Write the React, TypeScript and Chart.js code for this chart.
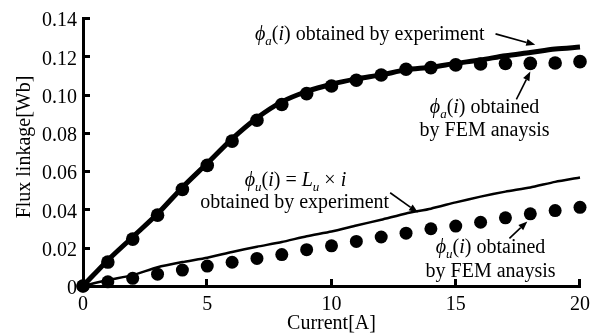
import React, { useEffect, useRef } from 'react';
import { Chart, registerables } from 'chart.js';

Chart.register(...registerables);

// ---- data ----
const currents = [0, 1, 2, 3, 4, 5, 6, 7, 8, 9, 10, 11, 12, 13, 14, 15, 16, 17, 18, 19, 20];
const phiAExperiment = [0, 0.0135, 0.0256, 0.0377, 0.0515, 0.0641, 0.0769, 0.0878, 0.0962, 0.1016, 0.1054, 0.1082, 0.1103, 0.1129, 0.1143, 0.1163, 0.1181, 0.1203, 0.122, 0.1238, 0.1248];
const phiAFem = [0, 0.0125, 0.0245, 0.037, 0.0505, 0.063, 0.0757, 0.0866, 0.0948, 0.1005, 0.1045, 0.1075, 0.1102, 0.1132, 0.1141, 0.1155, 0.116, 0.1162, 0.1163, 0.1165, 0.1172];
const phiUExperiment = [0, 0.0031, 0.0057, 0.0098, 0.0125, 0.0148, 0.0178, 0.0205, 0.023, 0.026, 0.0285, 0.0316, 0.0346, 0.0379, 0.0404, 0.0437, 0.0467, 0.0493, 0.0515, 0.0544, 0.0567];
const phiUFem = [0, 0.0022, 0.004, 0.0062, 0.0083, 0.0104, 0.0124, 0.0144, 0.0164, 0.019, 0.021, 0.0233, 0.0256, 0.0276, 0.0299, 0.0313, 0.0333, 0.0356, 0.0377, 0.0394, 0.0411];

const xTickValues = [0, 5, 10, 15, 20];
const yTickValues = [0, 0.02, 0.04, 0.06, 0.08, 0.1, 0.12, 0.14];
const xTitle = 'Current[A]';
const yTitle = 'Flux linkage[Wb]';

type Seg = { t: string; it?: boolean; sub?: boolean };
const phiA: Seg[] = [{ t: 'ϕ', it: true }, { t: 'a', it: true, sub: true }, { t: '(' }, { t: 'i', it: true }, { t: ')' }];
const phiU: Seg[] = [{ t: 'ϕ', it: true }, { t: 'u', it: true, sub: true }, { t: '(' }, { t: 'i', it: true }, { t: ')' }];

// label anchors in data units (x: A, y: Wb), centre x / baseline y
const labelLines: { x: number; y: number; segs: Seg[] }[] = [
  { x: 11.54, y: 0.1286, segs: [...phiA, { t: ' obtained by experiment' }] },
  { x: 16.16, y: 0.0902, segs: [...phiA, { t: ' obtained' }] },
  { x: 16.16, y: 0.0783, segs: [{ t: 'by FEM anaysis' }] },
  { x: 8.55, y: 0.0524, segs: [...phiU, { t: ' = ' }, { t: 'L', it: true }, { t: 'u', it: true, sub: true }, { t: ' × ' }, { t: 'i', it: true }] },
  { x: 8.52, y: 0.041, segs: [{ t: 'obtained by experiment' }] },
  { x: 16.4, y: 0.0171, segs: [...phiU, { t: ' obtained' }] },
  { x: 16.4, y: 0.0047, segs: [{ t: 'by FEM anaysis' }] },
];
const arrows = [
  { x1: 16.6, y1: 0.1317, x2: 18.2, y2: 0.126 },
  { x1: 17.44, y1: 0.0975, x2: 18.0, y2: 0.112 },
  { x1: 12.36, y1: 0.0487, x2: 13.48, y2: 0.0384 },
  { x1: 17.16, y1: 0.0249, x2: 17.88, y2: 0.0337 },
];

const FONT = '"Liberation Serif", "Times New Roman", serif';

function segFont(s: Seg) {
  return `${s.it ? 'italic ' : ''}${s.sub ? 13 : 20}px ${FONT}`;
}

function drawRich(ctx: CanvasRenderingContext2D, segs: Seg[], cx: number, by: number) {
  let w = 0;
  for (const s of segs) {
    ctx.font = segFont(s);
    w += ctx.measureText(s.t).width;
  }
  let x = cx - w / 2;
  ctx.textAlign = 'left';
  ctx.textBaseline = 'alphabetic';
  for (const s of segs) {
    ctx.font = segFont(s);
    ctx.fillText(s.t, x, s.sub ? by + 5 : by);
    x += ctx.measureText(s.t).width;
  }
}

function drawArrow(ctx: CanvasRenderingContext2D, x1: number, y1: number, x2: number, y2: number) {
  const ang = Math.atan2(y2 - y1, x2 - x1);
  const hl = 9;
  const hw = 3.5;
  const bx = x2 - hl * Math.cos(ang);
  const by = y2 - hl * Math.sin(ang);
  ctx.beginPath();
  ctx.moveTo(x1, y1);
  ctx.lineTo(bx, by);
  ctx.lineWidth = 1.6;
  ctx.strokeStyle = '#000';
  ctx.stroke();
  ctx.beginPath();
  ctx.moveTo(x2, y2);
  ctx.lineTo(bx + hw * Math.sin(ang), by - hw * Math.cos(ang));
  ctx.lineTo(bx - hw * Math.sin(ang), by + hw * Math.cos(ang));
  ctx.closePath();
  ctx.fillStyle = '#000';
  ctx.fill();
}

const decorPlugin = {
  id: 'decor',
  afterDraw(chart: any) {
    const ctx: CanvasRenderingContext2D = chart.ctx;
    const xs = chart.scales.x;
    const ys = chart.scales.y;
    const area = chart.chartArea;
    ctx.save();
    // inward tick marks
    ctx.strokeStyle = '#000';
    ctx.lineWidth = 3;
    for (const v of yTickValues) {
      if (v === 0) continue;
      const py = Math.round(ys.getPixelForValue(v)) + 0.5;
      ctx.beginPath();
      ctx.moveTo(area.left, py);
      ctx.lineTo(area.left + 7, py);
      ctx.stroke();
    }
    for (const v of xTickValues) {
      if (v === 0) continue;
      const px = Math.round(xs.getPixelForValue(v)) - 0.5;
      ctx.beginPath();
      ctx.moveTo(px, area.bottom);
      ctx.lineTo(px, area.bottom - 7);
      ctx.stroke();
    }
    // annotations
    ctx.fillStyle = '#000';
    for (const l of labelLines) {
      drawRich(ctx, l.segs, xs.getPixelForValue(l.x), ys.getPixelForValue(l.y));
    }
    for (const a of arrows) {
      drawArrow(ctx, xs.getPixelForValue(a.x1), ys.getPixelForValue(a.y1), xs.getPixelForValue(a.x2), ys.getPixelForValue(a.y2));
    }
    // axis titles
    ctx.font = `20px ${FONT}`;
    ctx.textAlign = 'center';
    ctx.textBaseline = 'middle';
    ctx.fillText(xTitle, (area.left + area.right) / 2, 324);
    ctx.save();
    ctx.translate(25, (area.top + area.bottom) / 2 - 5);
    ctx.rotate(-Math.PI / 2);
    ctx.fillText(yTitle, 0, 0);
    ctx.restore();
    ctx.restore();
  },
};

export default function App() {
  const ref = useRef<HTMLCanvasElement | null>(null);
  useEffect(() => {
    if (!ref.current) return;
    const pts = (ys: number[]) => currents.map((c, i) => ({ x: c, y: ys[i] }));
    const chart = new Chart(ref.current, {
      type: 'scatter',
      data: {
        datasets: [
          { data: pts(phiAFem), showLine: false, pointRadius: 6.8, pointBackgroundColor: '#000', pointBorderWidth: 0, clip: false as any },
          { data: pts(phiUFem), showLine: false, pointRadius: 6.5, pointBackgroundColor: '#000', pointBorderWidth: 0, clip: false as any },
          { data: pts(phiAExperiment), showLine: true, borderColor: '#000', borderWidth: 5, pointRadius: 0, tension: 0.3, clip: false as any },
          { data: pts(phiUExperiment), showLine: true, borderColor: '#000', borderWidth: 2.5, pointRadius: 0, tension: 0.2, clip: false as any },
        ],
      },
      options: {
        animation: false,
        responsive: false,
        layout: { padding: { top: 16, right: 14, left: 0, bottom: 0 } },
        plugins: { legend: { display: false }, tooltip: { enabled: false } },
        scales: {
          x: {
            type: 'linear',
            min: 0,
            max: 20,
            afterBuildTicks: (s: any) => { s.ticks = xTickValues.map((v) => ({ value: v })); },
            afterFit: (s: any) => { s.height = 50; },
            grid: { display: false, drawTicks: false },
            border: { display: true, width: 3, color: '#000' },
            ticks: { color: '#000', font: { family: FONT, size: 20 }, padding: 7, maxRotation: 0 },
          },
          y: {
            type: 'linear',
            min: 0,
            max: 0.14,
            afterBuildTicks: (s: any) => { s.ticks = yTickValues.map((v) => ({ value: v })); },
            afterFit: (s: any) => { s.width = 83; },
            grid: { display: false, drawTicks: false },
            border: { display: true, width: 3, color: '#000' },
            ticks: {
              color: '#000',
              font: { family: FONT, size: 20 },
              padding: 6,
              labelOffset: 3,
              callback: (v: any) => (Number(v) === 0 ? '0' : Number(v).toFixed(2)),
            },
          },
        },
      },
      plugins: [decorPlugin],
    });
    return () => chart.destroy();
  }, []);
  return (
    <div style={{ position: 'fixed', left: 0, top: 0, width: 597, height: 336, background: '#fff' }}>
      <canvas ref={ref} width={597} height={336} style={{ display: 'block' }} />
    </div>
  );
}
